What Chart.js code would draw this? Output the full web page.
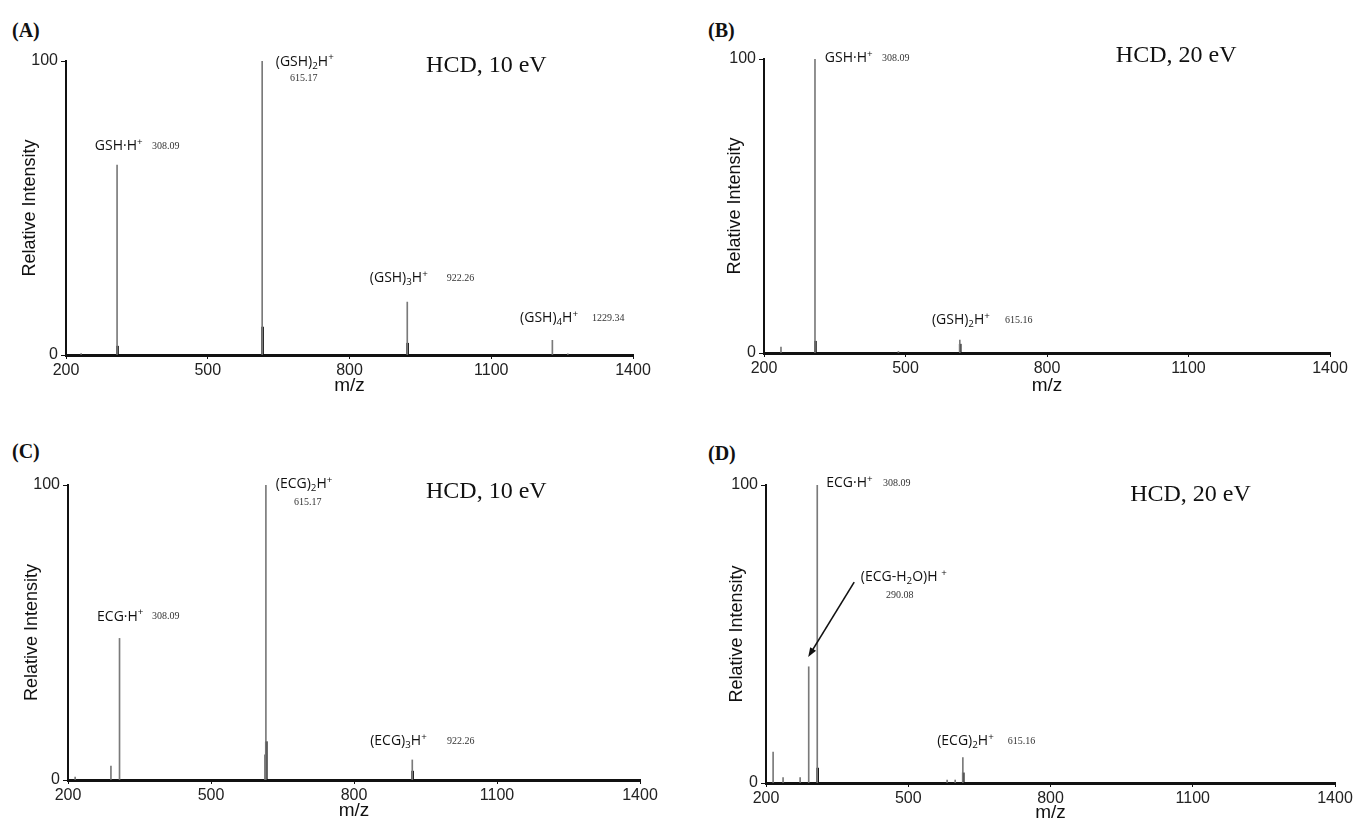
<!DOCTYPE html>
<html>
<head>
<meta charset="utf-8">
<script src="https://cdn.jsdelivr.net/npm/chart.js@4.4.0/dist/chart.umd.min.js"></script>
<style>
  body { margin: 0; background: #fff; width: 1359px; height: 826px; position: relative; overflow: hidden; }
  canvas { position: absolute; }
  .tag { position: absolute; font: bold 20px "Liberation Serif", serif; color: #111; line-height: 24px; }
</style>
</head>
<body>
<div class="tag" style="left:12px;top:18px">(A)</div>
<div class="tag" style="left:708px;top:18px">(B)</div>
<div class="tag" style="left:12px;top:439px">(C)</div>
<div class="tag" style="left:708px;top:441px">(D)</div>
<canvas id="cA" width="680" height="413" style="left:0;top:0"></canvas>
<canvas id="cB" width="679" height="413" style="left:680px;top:0"></canvas>
<canvas id="cC" width="680" height="413" style="left:0;top:413px"></canvas>
<canvas id="cD" width="679" height="413" style="left:680px;top:413px"></canvas>
<script>
// axis ticks shared by all four spectra
var xTicks = [200, 500, 800, 1100, 1400];
var yTicks = [0, 100];

// (A) GSH, HCD 10 eV
var mzA  = [232, 308.09, 615.17, 922.26, 1229.34, 1262];
var intA = [0.5, 64.6, 100, 18, 5, 0.4];
var mzA2  = [309, 616, 923];          // isotope / dark base of peaks
var intA2 = [3, 9.5, 4];

// (B) GSH, HCD 20 eV
var mzB  = [236, 308.09, 485, 615.16];
var intB = [2, 100, 0.5, 4.4];
var mzB2  = [309, 616];
var intB2 = [4, 3];

// (C) ECG, HCD 10 eV
var mzC  = [215, 290.08, 308.09, 613, 615.17, 922.26];
var intC = [1, 4.7, 48, 8.5, 100, 6.8];
var mzC2  = [616, 923];
var intC2 = [13, 3];

// (D) ECG, HCD 20 eV
var mzD  = [215, 236, 272, 290.08, 308.09, 582, 599, 615.16];
var intD = [10.4, 1.8, 1.8, 39, 100, 1, 1, 8.5];
var mzD2  = [309, 616];
var intD2 = [5, 3.4];

// peak annotations: ion names and m/z values
var ionsA = ['GSH·H^+', '(GSH)_2H^+', '(GSH)_3H^+', '(GSH)_4H^+'];
var massA = ['308.09', '615.17', '922.26', '1229.34'];
var ionsB = ['GSH·H^+', '(GSH)_2H^+'];
var massB = ['308.09', '615.16'];
var ionsC = ['ECG·H^+', '(ECG)_2H^+', '(ECG)_3H^+'];
var massC = ['308.09', '615.17', '922.26'];
var ionsD = ['ECG·H^+', '(ECG-H_2O)H ^+', '(ECG)_2H^+'];
var massD = ['308.09', '290.08', '615.16'];
var conditions = ['HCD, 10 eV', 'HCD, 20 eV', 'HCD, 10 eV', 'HCD, 20 eV'];

function pts(xs, ys) {
  return xs.map(function (x, i) { return { x: x, y: ys[i] }; });
}

function drawRich(ctx, str, x, y, size) {
  var i = 0, cx = x;
  while (i < str.length) {
    var ch = str[i], mode = 'n';
    if ((ch === '_' || ch === '^') && i + 1 < str.length) {
      mode = ch === '_' ? 'sub' : 'sup';
      ch = str[i + 1];
      i += 2;
    } else {
      i++;
    }
    var fs = mode === 'n' ? size : size * 0.7;
    ctx.font = fs + 'px "Open Sans"';
    var dy = mode === 'sub' ? size * 0.3 : (mode === 'sup' ? -size * 0.3 : 0);
    ctx.fillText(ch, cx, y + dy);
    cx += ctx.measureText(ch).width;
  }
}

// draws ion names, masses, condition text and arrows at data positions
var notesPlugin = {
  id: 'notes',
  afterDatasetsDraw: function (chart, args, opts) {
    var ctx = chart.ctx, xs = chart.scales.x, ys = chart.scales.y;
    ctx.save();
    ctx.textBaseline = 'middle';
    ctx.textAlign = 'left';
    (opts.items || []).forEach(function (n) {
      var px = xs.getPixelForValue(n.at[0]);
      var py = ys.getPixelForValue(n.at[1]);
      if (n.kind === 'ion') {
        ctx.fillStyle = '#111';
        drawRich(ctx, n.text, px, py, 14);
      } else if (n.kind === 'mass') {
        ctx.fillStyle = '#333';
        ctx.font = '10px "Liberation Serif"';
        ctx.fillText(n.text, px, py);
      } else {
        ctx.fillStyle = '#111';
        ctx.font = '24px "Liberation Serif"';
        ctx.fillText(n.text, px, py);
      }
    });
    (opts.arrows || []).forEach(function (a) {
      var x1 = xs.getPixelForValue(a.from[0]), y1 = ys.getPixelForValue(a.from[1]);
      var x2 = xs.getPixelForValue(a.to[0]), y2 = ys.getPixelForValue(a.to[1]);
      var ang = Math.atan2(y2 - y1, x2 - x1);
      ctx.strokeStyle = '#111';
      ctx.fillStyle = '#111';
      ctx.lineWidth = 1.6;
      ctx.beginPath();
      ctx.moveTo(x1, y1);
      ctx.lineTo(x2 - 6 * Math.cos(ang), y2 - 6 * Math.sin(ang));
      ctx.stroke();
      ctx.beginPath();
      ctx.moveTo(x2, y2);
      ctx.lineTo(x2 - 10 * Math.cos(ang - 0.35), y2 - 10 * Math.sin(ang - 0.35));
      ctx.lineTo(x2 - 10 * Math.cos(ang + 0.35), y2 - 10 * Math.sin(ang + 0.35));
      ctx.closePath();
      ctx.fill();
    });
    ctx.restore();
  }
};

function plainTick(v) { return String(v); }

function makePanel(id, peaks, base, box, notes, arrows) {
  var canvas = document.getElementById(id);
  return new Chart(canvas, {
    type: 'bar',
    data: {
      datasets: [
        { data: peaks, backgroundColor: '#7a7a7a', barThickness: 1, grouped: false },
        { data: base, backgroundColor: '#111', barThickness: 2, grouped: false }
      ]
    },
    options: {
      responsive: false,
      animation: false,
      devicePixelRatio: 1,
      layout: { padding: { left: box.padL, right: box.padR, top: box.padT, bottom: 0 } },
      plugins: {
        legend: { display: false },
        tooltip: { enabled: false },
        notes: { items: notes, arrows: arrows || [] }
      },
      scales: {
        x: {
          type: 'linear',
          min: 200, max: 1400,
          offset: false,
          afterBuildTicks: function (s) { s.ticks = xTicks.map(function (v) { return { value: v }; }); },
          afterFit: function (s) { s.height = box.xH; },
          grid: { display: true, drawOnChartArea: false, offset: false, tickLength: 4, color: '#111', tickWidth: 1 },
          border: { display: true, color: '#111', width: 3 },
          ticks: { color: '#222', padding: 2, maxRotation: 0, callback: plainTick, font: { family: 'Liberation Sans', size: 16 } },
          title: { display: true, text: 'm/z', color: '#111', font: { family: 'Liberation Sans', size: 19 }, padding: { top: 0, bottom: box.xTitlePad } }
        },
        y: {
          min: 0, max: 100,
          afterBuildTicks: function (s) { s.ticks = yTicks.map(function (v) { return { value: v }; }); },
          afterFit: function (s) { s.width = 50; },
          grid: { display: true, drawOnChartArea: false, tickLength: 5, color: '#111', tickWidth: 1 },
          border: { display: true, color: '#111', width: 2 },
          ticks: { color: '#222', padding: 3, callback: plainTick, font: { family: 'Liberation Sans', size: 16 } },
          title: { display: true, text: 'Relative Intensity', color: '#111', font: { family: 'Liberation Sans', size: 18 }, padding: { top: box.yTitlePad, bottom: 0 } }
        }
      }
    },
    plugins: [notesPlugin]
  });
}

makePanel('cA', pts(mzA, intA), pts(mzA2, intA2),
  { padL: 16, padR: 47, padT: 61, xH: 58, xTitlePad: 15.6, yTitlePad: 3.2 },
  [
    { kind: 'ion', text: ionsA[0], at: [261, 71.1] },
    { kind: 'mass', text: massA[0], at: [382, 71.1] },
    { kind: 'ion', text: ionsA[1], at: [644, 99.7] },
    { kind: 'mass', text: massA[1], at: [674, 94.2] },
    { kind: 'ion', text: ionsA[2], at: [843, 26.2] },
    { kind: 'mass', text: massA[2], at: [1006, 26.2] },
    { kind: 'ion', text: ionsA[3], at: [1161, 12.6] },
    { kind: 'mass', text: massA[3], at: [1313, 12.6] },
    { kind: 'cond', text: conditions[0], at: [962, 98.3] }
  ]);

makePanel('cB', pts(mzB, intB), pts(mzB2, intB2),
  { padL: 34, padR: 29, padT: 59, xH: 60, xTitlePad: 15.6, yTitlePad: 10.2 },
  [
    { kind: 'ion', text: ionsB[0], at: [329, 100.3] },
    { kind: 'mass', text: massB[0], at: [450, 100.3] },
    { kind: 'ion', text: ionsB[1], at: [556, 11.2] },
    { kind: 'mass', text: massB[1], at: [711, 11.2] },
    { kind: 'cond', text: conditions[1], at: [946, 101] }
  ]);

makePanel('cC', pts(mzC, intC), pts(mzC2, intC2),
  { padL: 18, padR: 40, padT: 72, xH: 46, xTitlePad: 3.6, yTitlePad: 3.2 },
  [
    { kind: 'ion', text: ionsC[0], at: [261, 55.3] },
    { kind: 'mass', text: massC[0], at: [376, 55.3] },
    { kind: 'ion', text: ionsC[1], at: [636, 100.3] },
    { kind: 'mass', text: massC[1], at: [674, 94.2] },
    { kind: 'ion', text: ionsC[2], at: [834, 13.2] },
    { kind: 'mass', text: massC[2], at: [995, 13.2] },
    { kind: 'cond', text: conditions[2], at: [951, 97.6] }
  ]);

makePanel('cD', pts(mzD, intD), pts(mzD2, intD2),
  { padL: 36, padR: 24, padT: 72, xH: 43, xTitlePad: 1.6, yTitlePad: 10.2 },
  [
    { kind: 'ion', text: ionsD[0], at: [327, 100.7] },
    { kind: 'mass', text: massD[0], at: [447, 100.7] },
    { kind: 'ion', text: ionsD[1], at: [400, 69.1] },
    { kind: 'mass', text: massD[1], at: [453, 62.8] },
    { kind: 'ion', text: ionsD[2], at: [561, 14.1] },
    { kind: 'mass', text: massD[2], at: [710, 14.1] },
    { kind: 'cond', text: conditions[3], at: [968, 96.6] }
  ],
  [{ from: [386, 67.4], to: [289, 42.3] }]);
</script>
</body>
</html>
